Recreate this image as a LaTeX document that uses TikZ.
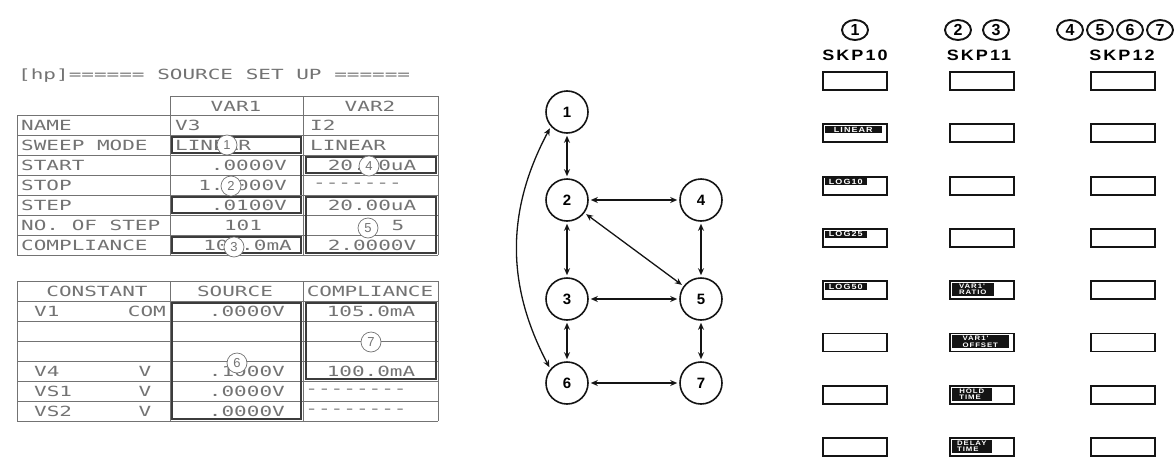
\documentclass[tikz,border=0pt]{standalone}
\usepackage{fontspec}
\newfontfamily\plotfont[FakeStretch=1.5]{DejaVu Sans Mono}
\newfontfamily\keyfont[FakeStretch=1.2,LetterSpace=14]{Liberation Sans}
\newfontfamily\nodefont{Liberation Sans}
\usetikzlibrary{arrows.meta, positioning, shapes.geometric}
\definecolor{plotgray}{RGB}{115,115,115}
\definecolor{hotgray}{RGB}{60,60,60}
\definecolor{inkblack}{RGB}{20,20,20}

\begin{document}
\begin{tikzpicture}[
    x=1pt, y=-1pt,
    grid/.style   = {draw=plotgray, line width=0.8pt},
    hot/.style    = {draw=hotgray, line width=1.8pt},
    cell/.style   = {font=\plotfont\fontsize{14}{14}\selectfont, text=plotgray, inner sep=0pt},
    fieldno/.style= {circle, draw=plotgray, fill=white, line width=0.7pt, minimum size=20pt,
                     inner sep=0pt, font=\nodefont\fontsize{13}{13}\selectfont, text=plotgray},
    gnode/.style  = {circle, draw=inkblack, line width=1.6pt, minimum size=42pt, inner sep=0pt,
                     font=\nodefont\bfseries\fontsize{15}{15}\selectfont},
    link/.style   = {{Stealth[length=7pt,width=6pt]}-{Stealth[length=7pt,width=6pt]},
                     line width=1.3pt, inkblack, shorten <=2pt, shorten >=2pt},
    skey/.style   = {rectangle, draw=inkblack, line width=1.8pt, minimum width=64pt,
                     minimum height=18pt, inner sep=0pt},
    keylbl/.style = {rectangle, fill=inkblack, text=white, inner sep=0.8pt, align=left,
                     font=\keyfont\bfseries\fontsize{7.5}{7.5}\selectfont, anchor=north west},
    twoline/.style= {font=\keyfont\bfseries\fontsize{6.5}{6.3}\selectfont, minimum height=13pt},
    colnum/.style = {ellipse, draw=inkblack, line width=1.9pt, minimum width=26pt,
                     minimum height=20pt, inner sep=0pt,
                     font=\nodefont\bfseries\fontsize{16}{16}\selectfont},
    colhead/.style= {font=\keyfont\bfseries\fontsize{15}{15}\selectfont, inner sep=0pt},
]
\useasboundingbox (0,0) rectangle (1175,458);

% ---- source set up table ----------------------------------------------------
\node[cell, anchor=west] (title) at (18,76) {[hp]====== SOURCE SET UP ======};

\draw[grid] (170,96) -- (438,96);
\foreach \y in {115,135,...,255} \draw[grid] (17,\y) -- (438,\y);
\draw[grid] (17,115) -- (17,255);
\foreach \x in {170,303,438} \draw[grid] (\x,96) -- (\x,255);

\node[cell] (var1) at (236,106) {VAR1};
\node[cell] (var2) at (370,106) {VAR2};
\foreach \txt [count=\i from 0] in {NAME,SWEEP MODE,START,STOP,STEP,NO.\ OF STEP,COMPLIANCE}
  \node[cell, anchor=west] (row\i) at (21,125+20*\i) {\txt};

% highlighted entry fields
\draw[hot] (172,137) rectangle (301,153);
\draw[hot] (301,155) -- (301,195);
\draw[hot] (172,197) rectangle (301,213);
\draw[hot] (172,237) rectangle (301,253);
\draw[hot] (306,157) rectangle (436,173);
\draw[hot] (306,197) rectangle (436,253);

\node[cell, anchor=west] (nameA) at (175,125) {V3};
\node[cell, anchor=west] (modeA) at (175,145) {LINEAR};
\node[cell, anchor=east] (startA) at (287,165) {.0000V};
\node[cell, anchor=east] (stopA) at (287,185) {1.0000V};
\node[cell, anchor=east] (stepA) at (287,205) {.0100V};
\node[cell] (nosA) at (243,225) {101};
\node[cell, anchor=east] (compA) at (292,245) {100.0mA};

\node[cell, anchor=west] (nameB) at (310,125) {I2};
\node[cell, anchor=west] (modeB) at (310,145) {LINEAR};
\node[cell] (startB) at (372,165) {20.00uA};
\node[cell, anchor=west] (stopB) at (313,185) {-------};
\node[cell] (stepB) at (372,205) {20.00uA};
\node[cell] (nosB) at (398,225) {5};
\node[cell] (compB) at (372,245) {2.0000V};

% ---- constant table ---------------------------------------------------------
\foreach \y in {281,301,...,421} \draw[grid] (17,\y) -- (438,\y);
\foreach \x in {17,170,303,438} \draw[grid] (\x,281) -- (\x,421);
\draw[hot] (172,303) rectangle (301,419);
\draw[hot] (306,303) rectangle (436,379);

\node[cell] (consthd) at (97,291) {CONSTANT};
\node[cell] (srchd) at (235,291) {SOURCE};
\node[cell] (comphd) at (370,291) {COMPLIANCE};

\node[cell, anchor=west] (cV1) at (34,311) {V1};
\node[cell, anchor=east] (cV1u) at (166,311) {COM};
\node[cell, anchor=east] (sV1) at (285,311) {.0000V};
\node[cell] (pV1) at (371,311) {105.0mA};
\node[cell, anchor=west] (cV4) at (34,371) {V4};
\node[cell] (cV4u) at (145,371) {V};
\node[cell, anchor=east] (sV4) at (285,371) {.1000V};
\node[cell] (pV4) at (371,371) {100.0mA};
\node[cell, anchor=west] (cVS1) at (34,391) {VS1};
\node[cell] (cVS1u) at (145,391) {V};
\node[cell, anchor=east] (sVS1) at (285,391) {.0000V};
\node[cell] (pVS1) at (356,391) {--------};
\node[cell, anchor=west] (cVS2) at (34,411) {VS2};
\node[cell] (cVS2u) at (145,411) {V};
\node[cell, anchor=east] (sVS2) at (285,411) {.0000V};
\node[cell] (pVS2) at (356,411) {--------};

% ---- circled field numbers ----------------------------------------------------
\node[fieldno] (m1) at (227,145) {1};
\node[fieldno] (m2) at (231,186) {2};
\node[fieldno] (m3) at (234,247) {3};
\node[fieldno] (m4) at (369,166) {4};
\node[fieldno] (m5) at (368,228) {5};
\node[fieldno] (m6) at (237,363) {6};
\node[fieldno] (m7) at (371,342) {7};

% ---- field transition graph -----------------------------------------------------
\node[gnode] (n1) at (567,112) {1};
\node[gnode] (n2) at (567,200) {2};
\node[gnode] (n3) at (567,299) {3};
\node[gnode] (n6) at (567,383) {6};
\node[gnode] (n4) at (701,200) {4};
\node[gnode] (n5) at (701,299) {5};
\node[gnode] (n7) at (701,383) {7};

\draw[link] (n1) -- (n2);
\draw[link] (n2) -- (n4);
\draw[link] (n2) -- (n3);
\draw[link] (n2) -- (n5);
\draw[link] (n4) -- (n5);
\draw[link] (n3) -- (n5);
\draw[link] (n3) -- (n6);
\draw[link] (n5) -- (n7);
\draw[link] (n6) -- (n7);
\draw[link] (n6.140) to[bend left=28] (n1.222);

% ---- softkey columns ---------------------------------------------------------
\node[colnum] (c1) at (855,30) {1};
\node[colnum] (c2) at (958,30) {2};
\node[colnum] (c3) at (996,30) {3};
\node[colnum] (c4) at (1070,30) {4};
\node[colnum] (c5) at (1100,30) {5};
\node[colnum] (c6) at (1130,30) {6};
\node[colnum] (c7) at (1160,30) {7};
\node[colhead] (skp10) at (855,55) {SKP10};
\node[colhead] (skp11) at (979,55) {SKP11};
\node[colhead] (skp12) at (1122,55) {SKP12};

\foreach \k in {0,...,7} {
  \node[skey] (ka\k) at (855,81+52.3*\k) {};
  \node[skey] (kb\k) at (982,81+52.3*\k) {};
  \node[skey] (kc\k) at (1123,81+52.3*\k) {};
}
\node[keylbl, minimum width=57pt] at ([shift={(2.5,2.5)}]ka1.north west) {LINEAR};
\node[keylbl, minimum width=42pt] at ([shift={(2.5,2.5)}]ka2.north west) {LOG10};
\node[keylbl, minimum width=42pt] at ([shift={(2.5,2.5)}]ka3.north west) {LOG25};
\node[keylbl, minimum width=42pt] at ([shift={(2.5,2.5)}]ka4.north west) {LOG50};
\node[keylbl, twoline, minimum width=42pt] at ([shift={(2.5,2.5)}]kb4.north west) {VAR1'\\RATIO};
\node[keylbl, twoline, minimum width=57pt] at ([shift={(2.5,2.5)}]kb5.north west) {VAR1'\\OFFSET};
\node[keylbl, twoline, minimum width=40pt] at ([shift={(2.5,2.5)}]kb6.north west) {HOLD\\TIME};
\node[keylbl, twoline, minimum width=40pt] at ([shift={(2.5,2.5)}]kb7.north west) {DELAY\\TIME};
\end{tikzpicture}
\end{document}
